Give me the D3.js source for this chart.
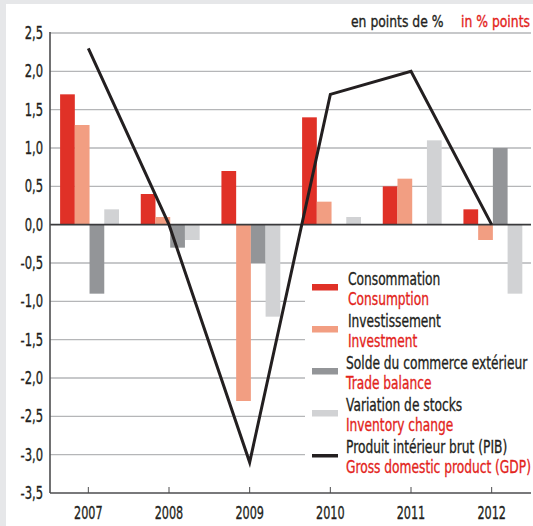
<!DOCTYPE html>
<html lang="fr">
<head>
    <meta charset="UTF-8">
    <title>Contributions à la croissance</title>
    <style>
        body { margin: 0; background: #e6e7e9; }
        text { font-family: "DejaVu Sans", sans-serif; stroke-width: 0.35px; }
        .grid line { stroke: #b5b6b8; stroke-width: 1.3px; }
        .ylab text { font-size: 17px; fill: #231f20; stroke: #231f20; }
        .xlab text { font-size: 17px; fill: #231f20; stroke: #231f20; }
        .leg text { font-size: 17px; }
        .head text { font-size: 15.5px; }
    </style>
    <script src="https://d3js.org/d3.v7.min.js"></script>
</head>
<body>
    <script>
        // data
        const years = ["2007", "2008", "2009", "2010", "2011", "2012"];
        const consumption = [1.7, 0.4, 0.7, 1.4, 0.5, 0.2];
        const investment = [1.3, 0.1, -2.3, 0.3, 0.6, -0.2];
        const tradeBalance = [-0.9, -0.3, -0.5, 0, 0, 1.0];
        const inventory = [0.2, -0.2, -1.2, 0.1, 1.1, -0.9];
        const gdp = [2.3, 0.0, -3.1, 1.7, 2.0, 0.0];
        const yTicks = [2.5, 2.0, 1.5, 1.0, 0.5, 0, -0.5, -1.0, -1.5, -2.0, -2.5, -3.0, -3.5];

        const series = [
            { key: "cons", fr: "Consommation", en: "Consumption", values: consumption, color: "#e03127" },
            { key: "inv", fr: "Investissement", en: "Investment", values: investment, color: "#f29e82" },
            { key: "trade", fr: "Solde du commerce extérieur", en: "Trade balance", values: tradeBalance, color: "#939598" },
            { key: "stock", fr: "Variation de stocks", en: "Inventory change", values: inventory, color: "#d1d2d4" }
        ];

        const W = 533, H = 526;
        const svg = d3.select("body").append("svg")
            .attr("width", W).attr("height", H);

        // no condensed face installed: squeeze texts horizontally round their anchor
        function squeeze(sel, k) {
            sel.each(function () {
                const ax = +this.getAttribute("x");
                d3.select(this).attr("transform", `translate(${ax},0) scale(${k},1) translate(${-ax},0)`);
            });
        }

        // white panel inside the grey frame
        svg.append("rect").attr("x", 6).attr("y", 4)
            .attr("width", W - 6).attr("height", H - 4).attr("fill", "#fff");

        const x = d3.scaleBand().domain(years).range([48, 532]);
        const x1 = d3.scaleBand().domain(series.map(s => s.key))
            .range([x.bandwidth() * 0.15, x.bandwidth() * 0.88]);
        const y = d3.scaleLinear().domain([-3.5, 2.5]).range([493, 33]);
        const fmt = v => d3.format(".1f")(v).replace(".", ",").replace("−", "-");

        // grid lines
        svg.append("g").attr("class", "grid")
            .selectAll("line").data(yTicks.filter(v => v !== 0 && v !== -3.5)).enter().append("line")
            .attr("x1", 50).attr("x2", 531)
            .attr("y1", d => y(d)).attr("y2", d => y(d));

        // header
        const head = svg.append("g").attr("class", "head");
        head.append("text").attr("x", 351).attr("y", 27).attr("fill", "#231f20").attr("stroke", "#231f20").text("en points de %");
        head.append("text").attr("x", 461).attr("y", 27).attr("fill", "#e3231b").attr("stroke", "#e3231b").text("in % points");
        squeeze(head.selectAll("text"), 0.8);

        // legend panel hides the grid lines
        svg.append("rect").attr("x", 305).attr("y", 268).attr("width", 228).attr("height", 216).attr("fill", "#fff");

        // bars
        const groups = svg.append("g").selectAll("g").data(years).enter().append("g")
            .attr("transform", d => `translate(${x(d)},0)`);
        series.forEach(s => {
            groups.append("rect")
                .attr("x", x1(s.key))
                .attr("width", x1.bandwidth())
                .attr("y", (d, i) => y(Math.max(0, s.values[i])))
                .attr("height", (d, i) => Math.abs(y(s.values[i]) - y(0)))
                .attr("fill", s.color);
        });

        const legG = svg.append("g").attr("class", "leg");
        const legItems = series.map(s => ({ fr: s.fr, en: s.en, color: s.color, line: false }))
            .concat([{ fr: "Produit intérieur brut (PIB)", en: "Gross domestic product (GDP)", color: "#231f20", line: true }]);
        legItems.forEach((d, i) => {
            const y0 = 285 + i * 42;
            const tx = i < 2 ? 348 : 346;
            legG.append("rect").attr("x", 312).attr("y", y0 - 1 + (d.line ? 2 : 0))
                .attr("width", 26).attr("height", d.line ? 3.5 : 6.5).attr("fill", d.color);
            legG.append("text").attr("x", tx).attr("y", y0)
                .attr("fill", "#231f20").attr("stroke", "#231f20").text(d.fr);
            legG.append("text").attr("x", tx).attr("y", y0 + 20)
                .attr("fill", "#e3231b").attr("stroke", "#e3231b").text(d.en);
        });
        squeeze(legG.selectAll("text"), 0.72);

        // axes lines
        svg.append("line").attr("x1", 50).attr("x2", 531).attr("y1", y(0)).attr("y2", y(0))
            .attr("stroke", "#3a3a3c").attr("stroke-width", 1.6);
        svg.append("line").attr("x1", 50).attr("x2", 531).attr("y1", y(-3.5)).attr("y2", y(-3.5))
            .attr("stroke", "#4d4d4f").attr("stroke-width", 1.6);
        svg.append("line").attr("x1", 50).attr("x2", 50).attr("y1", y(2.5) - 1).attr("y2", y(-3.5))
            .attr("stroke", "#4d4d4f").attr("stroke-width", 1.6);

        // GDP line
        const line = d3.line().x((d, i) => x(years[i]) + x.bandwidth() / 2).y(d => y(d));
        svg.append("path").datum(gdp).attr("d", line)
            .attr("fill", "none").attr("stroke", "#231f20").attr("stroke-width", 3);

        // y labels
        const yl = svg.append("g").attr("class", "ylab");
        yl.selectAll("text").data(yTicks).enter().append("text")
            .attr("x", 43).attr("y", d => y(d) + 6).attr("text-anchor", "end").text(fmt);
        squeeze(yl.selectAll("text"), 0.68);

        // x ticks and labels
        const xl = svg.append("g").attr("class", "xlab");
        xl.selectAll("line").data(years).enter().append("line")
            .attr("x1", d => x(d) + x.bandwidth() / 2).attr("x2", d => x(d) + x.bandwidth() / 2)
            .attr("y1", y(-3.5)).attr("y2", y(-3.5) - 6)
            .attr("stroke", "#4d4d4f").attr("stroke-width", 1);
        xl.selectAll("text").data(years).enter().append("text")
            .attr("x", d => x(d) + x.bandwidth() / 2).attr("y", 519)
            .attr("text-anchor", "middle").text(d => d);
        squeeze(xl.selectAll("text"), 0.66);
    </script>
</body>
</html>
